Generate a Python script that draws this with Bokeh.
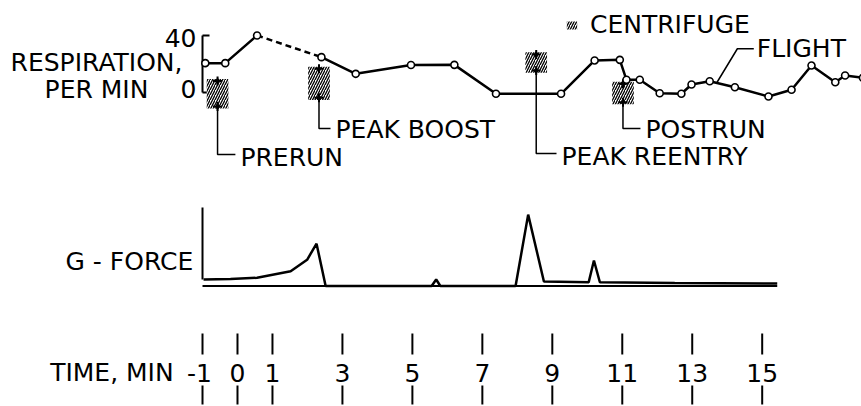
from bokeh.plotting import figure
from bokeh.models import Range1d, Legend, LegendItem
from bokeh.core.properties import value
from bokeh.embed import file_html
from bokeh.resources import INLINE

# ---------------- data ----------------
# respiration, breaths per minute, flight
resp_t = [-0.92, -0.35, 0.56, 2.40, 3.38, 4.96, 6.20, 7.39, 9.25, 10.21, 10.93, 11.12,
          11.50, 12.07, 12.69, 12.98, 13.50, 14.22, 15.18, 15.84, 16.41, 17.09, 17.37, 17.88]
resp_v = [20.6, 20.6, 40.0, 24.8, 13.1, 19.3, 19.4, -0.9, -0.9, 22.5, 22.9, 8.9,
          8.9, -0.5, -0.9, 5.6, 7.9, 3.7, -2.8, 1.9, 18.9, 7.2, 11.9, 10.3]

# centrifuge runs: time, upper and lower values
cent_labels = ["PRERUN", "PEAK BOOST", "PEAK REENTRY", "POSTRUN"]
cent_t = [-0.57, 2.33, 8.54, 11.02]
cent_hi = [8.0, 16.6, 26.7, 6.1]
cent_lo = [-9.8, -3.7, 15.4, -6.8]

# G-force trace
g_t = [-0.97, -0.20, 0.56, 1.52, 1.99, 2.26, 2.52, 5.55, 5.68, 5.80, 7.95, 8.31,
       8.76, 10.04, 10.19, 10.36, 12.50, 15.43]
g_v = [1.08, 1.17, 1.37, 2.47, 4.37, 7.05, 0.0, 0.0, 1.08, 0.0, 0.0, 11.9,
       0.75, 0.63, 4.25, 0.63, 0.50, 0.42]
g_base_t = [-1.0, 15.43]
g_axis_top = 13.1

# time axis
time_ticks = [-1, 0, 1, 3, 5, 7, 9, 11, 13, 15]
time_labels = ["-1", "0", "1", "3", "5", "7", "9", "11", "13", "15"]

# respiration axis
resp_ticks = [0, 40]
resp_tick_labels = ["0", "40"]

# ---------------- layout / style ----------------
FONT = value("DejaVu Sans")
FS = value("25px")
BLACK = "black"
W, H = 861, 406

p = figure(width=W, height=H,
           x_range=Range1d(-6.775, 17.839),
           y_range=Range1d(-220.35, 64.56),
           x_axis_type=None, y_axis_type=None,
           output_backend="svg", toolbar_location=None,
           min_border=0, title=None, outline_line_color=None,
           background_fill_color="white", border_fill_color="white")
p.extra_y_ranges = {"g": Range1d(-20.08, 47.58), "tax": Range1d(0, H)}

AX = time_ticks[0]  # axis position (t = -1)

# ---- respiration axis bracket
p.segment(x0=[AX], y0=[resp_ticks[0]], x1=[AX], y1=[resp_ticks[1]], line_color=BLACK, line_width=2)
p.segment(x0=[AX, AX], y0=resp_ticks, x1=[AX + 0.2, AX + 0.2], y1=resp_ticks, line_color=BLACK, line_width=2)
p.text(x=[AX, AX], y=resp_ticks, text=resp_tick_labels, text_align="right", text_baseline="middle",
       x_offset=-6, y_offset=[-3, 3], text_font=FONT, text_font_size=FS, text_color=BLACK)
p.text(x=[-4.03, -4.03], y=[21.05, 2.1], text=["RESPIRATION,", "PER MIN"], text_align="center",
       text_baseline="middle", text_font=FONT, text_font_size=FS, text_color=BLACK)

# ---- centrifuge boxes
half_w, pad = 0.31, 1.5
boxes = p.quad(left=[t - half_w for t in cent_t], right=[t + half_w for t in cent_t],
               top=[h + pad for h in cent_hi], bottom=[l - pad for l in cent_lo],
               fill_color="white", line_color=None, hatch_pattern="/", hatch_color=BLACK,
               hatch_scale=5, hatch_weight=1.3)
p.scatter(cent_t + cent_t, cent_hi + cent_lo, marker="cross", size=9, line_width=2, line_color=BLACK)
p.scatter(cent_t + cent_t, cent_hi + cent_lo, marker="diamond", size=6, fill_color=BLACK, line_color=BLACK)

# leaders to labels
lead_level = [-43.5, -25.3, -42.8, -25.3]
lead_len = [0.51, 0.33, 0.58, 0.50]
lx, ly = [], []
for t, lo, lev, ln in zip(cent_t, cent_lo, lead_level, lead_len):
    lx.append([t, t, t + ln])
    ly.append([lo, lev, lev])
p.multi_line(lx, ly, line_color=BLACK, line_width=1.5)
p.text(x=[t + ln for t, ln in zip(cent_t, lead_len)], y=lead_level, text=cent_labels,
       x_offset=5, y_offset=[3, 1, 3, 1], text_align="left", text_baseline="middle",
       text_font=FONT, text_font_size=FS, text_color=BLACK)

# ---- respiration line
p.line(resp_t[:3], resp_v[:3], line_color=BLACK, line_width=2.5)
p.line(resp_t[2:4], resp_v[2:4], line_color=BLACK, line_width=2.5, line_dash="6 4")
p.line(resp_t[3:], resp_v[3:], line_color=BLACK, line_width=2.5)
p.scatter(resp_t, resp_v, marker="circle", size=7, fill_color="white", line_color=BLACK, line_width=1.6)

# FLIGHT leader
p.line([13.71, 14.29, 14.76], [7.2, 30.7, 30.7], line_color=BLACK, line_width=1.5)
p.text(x=[14.76], y=[30.7], text=["FLIGHT"], x_offset=3, text_align="left", text_baseline="middle",
       text_font=FONT, text_font_size=FS, text_color=BLACK)

# legend
legend = Legend(items=[LegendItem(label="CENTRIFUGE", renderers=[boxes])],
                location=(565, 367), border_line_color=None, background_fill_alpha=0,
                padding=0, margin=0, label_standoff=12, glyph_width=13, glyph_height=10,
                label_text_font="DejaVu Sans", label_text_font_size="25px",
                label_text_color=BLACK)
p.add_layout(legend)

# ---- G-force panel
p.segment(x0=[AX], y0=[g_v[0]], x1=[AX], y1=[g_axis_top], y_range_name="g", line_color=BLACK, line_width=2)
p.line(g_base_t, [0, 0], y_range_name="g", line_color=BLACK, line_width=2)
p.line(g_t, g_v, y_range_name="g", line_color=BLACK, line_width=2.5)
p.text(x=[-3.09], y=[4.08], text=["G - FORCE"], y_range_name="g", text_align="center",
       text_baseline="middle", text_font=FONT, text_font_size=FS, text_color=BLACK)

# ---- time axis
n = len(time_ticks)
p.segment(x0=time_ticks, y0=[52] * n, x1=time_ticks, y1=[73] * n, y_range_name="tax",
          line_color=BLACK, line_width=2)
p.segment(x0=time_ticks, y0=[2] * n, x1=time_ticks, y1=[21] * n, y_range_name="tax",
          line_color=BLACK, line_width=2)
p.text(x=time_ticks, y=[34] * n, text=time_labels, y_range_name="tax",
       x_offset=[-3] + [0] * (n - 1), text_align="center", text_baseline="middle",
       text_font=FONT, text_font_size=FS, text_color=BLACK)
p.text(x=[-3.59], y=[34], text=["TIME, MIN"], y_range_name="tax", text_align="center",
       text_baseline="middle", text_font=FONT, text_font_size=FS, text_color=BLACK)

open("out.html", "w").write(file_html(p, INLINE))
